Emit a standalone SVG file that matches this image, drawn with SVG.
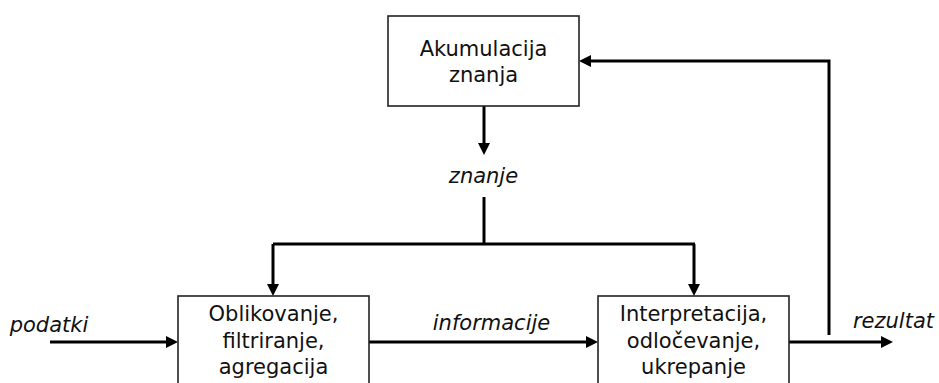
<svg xmlns="http://www.w3.org/2000/svg" width="939" height="383" viewBox="0 0 939 383">
<style>
.box{fill:#fff;stroke:#222;stroke-width:1.6}
.t{font-family:"DejaVu Sans",sans-serif;font-size:21px;fill:#111;text-anchor:middle}
.l{font-family:"DejaVu Sans",sans-serif;font-size:21px;font-style:italic;fill:#111;text-anchor:middle}
.c{fill:none;stroke:#000;stroke-width:3}
</style>
<defs>
<marker id="ah" markerUnits="userSpaceOnUse" markerWidth="12" markerHeight="12" refX="1" refY="6" orient="auto">
<path d="M0,0 L12,6 L0,12 z" fill="#000"/>
</marker>
</defs>
<rect width="939" height="383" fill="#fff"/>
<g id="connectors">
<path class="c" d="M484,106 V144" marker-end="url(#ah)"/>
<path class="c" d="M484,197 V244"/>
<path class="c" d="M273,244 H695"/>
<path class="c" d="M273,244 V285" marker-end="url(#ah)"/>
<path class="c" d="M694,244 V285" marker-end="url(#ah)"/>
<path class="c" d="M50,342 H167" marker-end="url(#ah)"/>
<path class="c" d="M369,342 H587" marker-end="url(#ah)"/>
<path class="c" d="M789,342 H882" marker-end="url(#ah)"/>
<path class="c" d="M829,335 V61 H590" marker-end="url(#ah)"/>
</g>
<g id="akumulacija">
<rect class="box" x="388" y="16" width="191" height="90"/>
<text class="t" x="483.5" y="56">Akumulacija</text>
<text class="t" x="483.5" y="82">znanja</text>
</g>
<g id="oblikovanje">
<rect class="box" x="178" y="296" width="191" height="100"/>
<text class="t" x="273.5" y="321">Oblikovanje,</text>
<text class="t" x="273.5" y="348">filtriranje,</text>
<text class="t" x="273.5" y="374">agregacija</text>
</g>
<g id="interpretacija">
<rect class="box" x="598" y="296" width="191" height="100"/>
<text class="t" x="693.5" y="321">Interpretacija,</text>
<text class="t" x="693.5" y="348">odločevanje,</text>
<text class="t" x="693.5" y="374">ukrepanje</text>
</g>
<g id="labels">
<text class="l" x="483.5" y="183">znanje</text>
<text class="l" x="49" y="332">podatki</text>
<text class="l" x="491.5" y="330">informacije</text>
<text class="l" x="893.5" y="328">rezultat</text>
</g>
</svg>
